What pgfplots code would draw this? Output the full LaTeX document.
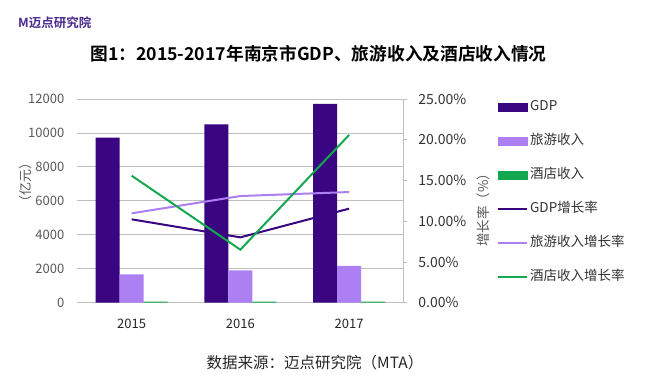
\documentclass[border=0pt]{standalone}
\usepackage{fontspec}
\setmainfont{Noto Sans CJK SC}[BoldFont={Noto Sans CJK SC Bold}]
\usepackage{pgfplots}
\pgfplotsset{compat=1.18}
\definecolor{gdp}{HTML}{3A0580}
\definecolor{tour}{HTML}{AC80F2}
\definecolor{hotel}{HTML}{14A84E}
\definecolor{gridc}{HTML}{BFBFBF}
\definecolor{tickc}{HTML}{595959}
\definecolor{logoc}{HTML}{4A2A8E}
\begin{document}
\begin{tikzpicture}[x=1pt,y=1pt]
\path[use as bounding box, fill=white] (0,0) rectangle (650,380);
\begin{axis}[
  at={(77.3pt,77.3pt)}, anchor=south west,
  scale only axis, width=326.1pt, height=203.7pt,
  ybar=0pt, bar width=24pt,
  xmin=-0.5, xmax=2.5, ymin=0, ymax=12000,
  xtick={0,1,2}, xticklabels={2015,2016,2017},
  ytick={0,2000,...,12000},
  scaled y ticks=false,
  axis line style={draw=none},
  tick style={draw=none},
  ymajorgrids, grid style={gridc, line width=0.8pt},
  ticklabel style={font=\fontsize{13}{15}\selectfont, text=tickc},
  xticklabel style={text=black!85, yshift=-9pt},
  yticklabel style={xshift=-9.5pt},
  /pgf/number format/1000 sep={},
  /pgf/number format/assume math mode=true,
  ylabel={（亿元）},
  every axis y label/.style={at={(axis description cs:0,0.588)}, xshift=-52pt, rotate=90, anchor=center, font=\fontsize{13}{15}\selectfont, text=tickc},
]
\addplot[fill=gdp, draw=none] coordinates {(0,9720) (1,10503) (2,11715)};
\addplot[fill=tour, draw=none] coordinates {(0,1673) (1,1909) (2,2169)};
\addplot[fill=hotel, draw=none] coordinates {(0,60) (1,62) (2,70)};
\end{axis}
\begin{axis}[
  at={(77.3pt,77.3pt)}, anchor=south west,
  scale only axis, width=326.1pt, height=203.7pt,
  xmin=-0.5, xmax=2.5, ymin=0, ymax=25,
  axis x line=none, axis y line*=right,
  ytick={0,5,...,25},
  yticklabel={\pgfmathprintnumber[fixed,fixed zerofill,precision=2]{\tick}\%},
  y axis line style={gridc, line width=0.8pt}, ytick style={gridc, line width=0.8pt},
  tick align=outside, major tick length=4pt,
  ticklabel style={font=\fontsize{14}{16}\selectfont, text=black!80},
  yticklabel style={anchor=west, xshift=7.5pt},
  /pgf/number format/assume math mode=true,
  ylabel={增长率（\%）},
  every axis y label/.style={at={(axis description cs:1,0.47)}, xshift=80pt, rotate=90, anchor=center, font=\fontsize{13.5}{15}\selectfont, text=tickc},
  legend image code/.code={\draw[#1] (0pt,0pt) -- (29pt,0pt);},
  legend style={at={(1.287,1.003)}, anchor=north west, draw=none, fill=none, inner sep=0pt,
    row sep=17pt, column sep=0pt,
    nodes={inner sep=2pt, anchor=west, text height=10pt, text depth=3pt, font=\fontsize{13.5}{15}\selectfont, text=black!80}},
  legend cell align=left,
  legend entries={GDP,旅游收入,酒店收入,GDP增长率,旅游收入增长率,酒店收入增长率},
]
\addlegendimage{legend image code/.code={\fill[gdp] (0pt,-4pt) rectangle (29pt,4pt);}}
\addlegendimage{legend image code/.code={\fill[tour] (0pt,-4pt) rectangle (29pt,4pt);}}
\addlegendimage{legend image code/.code={\fill[hotel] (0pt,-4pt) rectangle (29pt,4pt);}}
\addplot[gdp, line width=2pt] coordinates {(0,10.23) (1,8.02) (2,11.54)};
\addplot[tour, line width=2pt] coordinates {(0,10.97) (1,13.09) (2,13.58)};
\addplot[hotel, line width=2pt] coordinates {(0,15.59) (1,6.51) (2,20.58)};
\end{axis}
\node[font=\bfseries\fontsize{17.7}{20}\selectfont] at (318.5,326) {图1：2015-2017年南京市GDP、旅游收入及酒店收入情况};
\node[font=\fontsize{15.5}{17}\selectfont, text=black!85] at (315,17) {数据来源：迈点研究院（MTA）};
\node[anchor=west, font=\bfseries\fontsize{12.5}{14}\selectfont, text=logoc, inner sep=0pt] at (18,357) {M迈点研究院};
\end{tikzpicture}
\end{document}
